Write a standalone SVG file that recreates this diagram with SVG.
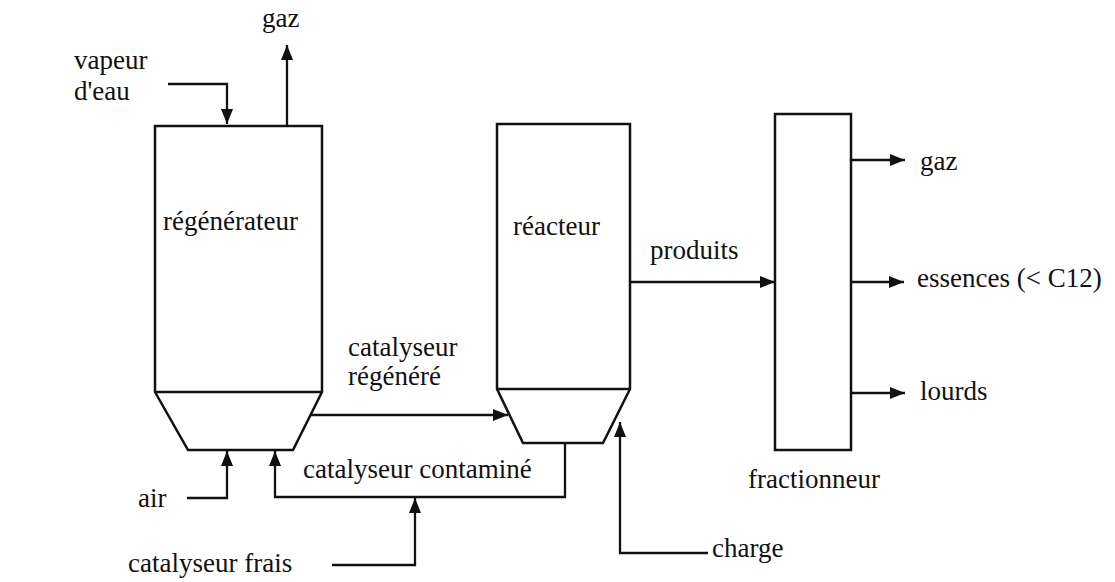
<svg xmlns="http://www.w3.org/2000/svg" width="1115" height="582" viewBox="0 0 1115 582">
<style>
.s{fill:none;stroke:#111;stroke-width:2.5;stroke-linejoin:miter}
.c{fill:none;stroke:#111;stroke-width:2.3}
text{font-family:"Liberation Serif","Times New Roman",serif;font-size:27px;fill:#111}
</style>
<defs>
<marker id="a" markerUnits="userSpaceOnUse" markerWidth="16" markerHeight="12" viewBox="0 0 16 12" refX="15" refY="6" orient="auto">
<path d="M0,0 L15,6 L0,12 Z" fill="#111"/>
</marker>
</defs>
<rect width="1115" height="582" fill="#fff"/>
<g id="regenerateur">
<path class="s" d="M155,126 H322 V392 L293,450 H188 L155,392 Z M155,392 H322"/>
<text x="163" y="230">régénérateur</text>
</g>
<g id="reacteur">
<path class="s" d="M497,124 H630 V389 L603,443 H523 L497,389 Z M497,389 H630"/>
<text x="513" y="235">réacteur</text>
</g>
<g id="fractionneur">
<rect class="s" x="775" y="114" width="76" height="336"/>
<text x="748" y="488">fractionneur</text>
</g>
<g id="connectors">
<path class="c" d="M168,84 H227 V124" marker-end="url(#a)"/>
<path class="c" d="M287,126 V45" marker-end="url(#a)"/>
<path class="c" d="M311,415 H508" marker-end="url(#a)"/>
<path class="c" d="M631,282 H775" marker-end="url(#a)"/>
<path class="c" d="M851,160 H905" marker-end="url(#a)"/>
<path class="c" d="M851,282 H904" marker-end="url(#a)"/>
<path class="c" d="M851,393 H905" marker-end="url(#a)"/>
<path class="c" d="M187,498 H227 V451" marker-end="url(#a)"/>
<path class="c" d="M565,443 V497 H275 V451" marker-end="url(#a)"/>
<path class="c" d="M332,565 H415 V498" marker-end="url(#a)"/>
<path class="c" d="M708,553 H620 V422" marker-end="url(#a)"/>
</g>
<g id="labels">
<text x="262" y="27">gaz</text>
<text x="74" y="69">vapeur</text>
<text x="74" y="100">d'eau</text>
<text x="348" y="356">catalyseur</text>
<text x="348" y="385">régénéré</text>
<text x="650" y="259">produits</text>
<text x="920" y="170">gaz</text>
<text x="917" y="287">essences (&lt; C12)</text>
<text x="920" y="400">lourds</text>
<text x="303" y="478">catalyseur contaminé</text>
<text x="138" y="507">air</text>
<text x="128" y="572">catalyseur frais</text>
<text x="712" y="557">charge</text>
</g>
</svg>
